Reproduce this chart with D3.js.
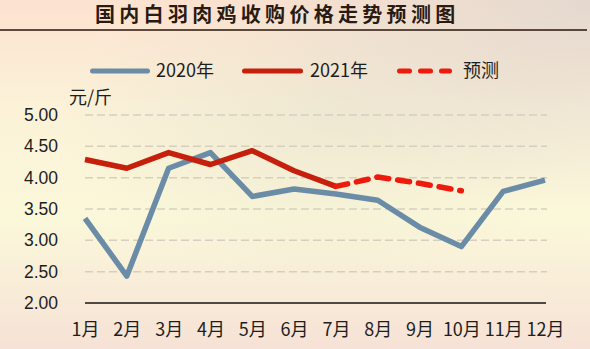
<!DOCTYPE html>
<html>
<head>
<meta charset="utf-8">
<script src="https://cdn.jsdelivr.net/npm/d3@7"></script>
<style>
  html, body { margin: 0; padding: 0; }
  body { width: 590px; height: 349px; overflow: hidden; }
  svg { display: block; }
</style>
</head>
<body>
<svg id="chart" width="590" height="349"></svg>
<script>
// Monthly purchase price of white-feather broilers (元/斤)
const months = ["1月","2月","3月","4月","5月","6月","7月","8月","9月","10月","11月","12月"];
const price2020 = [3.35, 2.43, 4.15, 4.40, 3.70, 3.82, 3.74, 3.64, 3.21, 2.90, 3.78, 3.96];
const price2021 = [4.29, 4.15, 4.40, 4.21, 4.43, 4.11, 3.86];
const forecastMonths = ["7月","8月","9月","10月"];
const forecast = [3.86, 4.01, 3.91, 3.79];
const yTicks = [2.00, 2.50, 3.00, 3.50, 4.00, 4.50, 5.00];

const title = "国内白羽肉鸡收购价格走势预测图";
const unitLabel = "元/斤";
const legendItems = [
  { name: "2020年", color: "#6b8ca6", dash: null, x1: 90, x2: 150, tx: 156 },
  { name: "2021年", color: "#c6200c", dash: null, x1: 242, x2: 303, tx: 310 },
  { name: "预测", color: "#ee1a0c", dash: "13,7", x1: 397, x2: 452, tx: 463 }
];

const svg = d3.select("#chart");
const W = 590, H = 349;

// Background wash
const defs = svg.append("defs");
const lg = defs.append("linearGradient").attr("id", "bg").attr("x1", 0).attr("y1", 0).attr("x2", 0).attr("y2", 1);
[["0%", "#fce2d0"], ["30%", "#fbf2d8"], ["62%", "#fbf8da"], ["100%", "#f6e2d6"]]
  .forEach(([o, c]) => lg.append("stop").attr("offset", o).attr("stop-color", c));
const rg = defs.append("radialGradient").attr("id", "haze").attr("cx", 0.55).attr("cy", 0.35).attr("r", 0.45);
rg.append("stop").attr("offset", "0%").attr("stop-color", "#d9d6c8").attr("stop-opacity", 0.35);
rg.append("stop").attr("offset", "100%").attr("stop-color", "#d9d6c8").attr("stop-opacity", 0);
const rg2 = defs.append("radialGradient").attr("id", "haze2").attr("cx", 1).attr("cy", 0).attr("r", 0.6);
rg2.append("stop").attr("offset", "0%").attr("stop-color", "#e2d8cf").attr("stop-opacity", 0.9);
rg2.append("stop").attr("offset", "100%").attr("stop-color", "#e2d8cf").attr("stop-opacity", 0);

svg.append("rect").attr("width", W).attr("height", H).attr("fill", "url(#bg)");
svg.append("rect").attr("width", W).attr("height", H).attr("fill", "url(#haze)");
svg.append("rect").attr("width", W).attr("height", H).attr("fill", "url(#haze2)");

// Title and rule
svg.append("text")
  .attr("x", 95).attr("y", 22)
  .attr("font-family", "Noto Sans CJK SC")
  .attr("font-weight", 700)
  .attr("font-size", 20)
  .attr("letter-spacing", 4.3)
  .attr("fill", "#2a1a12")
  .text(title);
svg.append("line")
  .attr("x1", 0).attr("x2", 587).attr("y1", 30).attr("y2", 30)
  .attr("stroke", "#2a140a").attr("stroke-width", 1.5);

// Scales
const x = d3.scalePoint().domain(months).range([85, 545]);
const y = d3.scaleLinear().domain([2, 5]).range([303, 115]);

// Gridlines
svg.append("g")
  .selectAll("line")
  .data(yTicks.filter(v => v > 2))
  .join("line")
  .attr("x1", 85).attr("x2", 547)
  .attr("y1", d => y(d)).attr("y2", d => y(d))
  .attr("stroke", "#d6cfbf").attr("stroke-width", 1.5)
  .attr("stroke-dasharray", "8,4");

// Y axis (labels only)
const yAxis = d3.axisLeft(y).tickValues(yTicks).tickFormat(d3.format(".2f")).tickSize(0).tickPadding(0);
const yg = svg.append("g").attr("transform", "translate(58,0)").call(yAxis);
yg.select(".domain").remove();
yg.selectAll("text")
  .attr("font-family", "Liberation Sans, Arial, sans-serif")
  .attr("font-size", 17.5)
  .attr("fill", "#1e1e1e");

// X axis
const xAxis = d3.axisBottom(x).tickSize(0).tickPadding(0);
const xg = svg.append("g").attr("transform", "translate(0,303)").call(xAxis);
xg.select(".domain").attr("stroke", "#1a1410").attr("stroke-width", 1.5).attr("d", "M85,0H546");
xg.selectAll("text")
  .attr("y", 27)
  .attr("dy", "0.32em")
  .attr("font-family", "Noto Sans CJK SC, sans-serif")
  .attr("font-size", 18)
  .attr("fill", "#1e1e1e");

// Unit label
svg.append("text")
  .attr("x", 69).attr("y", 104)
  .attr("font-family", "Noto Sans CJK SC, sans-serif")
  .attr("font-size", 18)
  .attr("fill", "#1e1e1e")
  .text(unitLabel);

// Series lines
const line = d3.line().x(d => x(d[0])).y(d => y(d[1]));
svg.append("path")
  .datum(months.map((m, i) => [m, price2020[i]]))
  .attr("d", line)
  .attr("fill", "none").attr("stroke", "#6b8ca6").attr("stroke-width", 5.5)
  .attr("stroke-linejoin", "round");
svg.append("path")
  .datum(price2021.map((v, i) => [months[i], v]))
  .attr("d", line)
  .attr("fill", "none").attr("stroke", "#c6200c").attr("stroke-width", 5.5)
  .attr("stroke-linejoin", "round");
svg.append("path")
  .datum(forecastMonths.map((m, i) => [m, forecast[i]]))
  .attr("d", line)
  .attr("fill", "none").attr("stroke", "#ee1a0c").attr("stroke-width", 5.5)
  .attr("stroke-dasharray", "12,9").attr("stroke-linecap", "round")
  .attr("stroke-linejoin", "round");

// Legend
const leg = svg.append("g");
legendItems.forEach(it => {
  leg.append("line")
    .attr("x1", it.x1 + 2.5).attr("x2", it.x2 - 2.5).attr("y1", 71).attr("y2", 71)
    .attr("stroke", it.color).attr("stroke-width", 5).attr("stroke-linecap", "round")
    .attr("stroke-dasharray", it.dash ? "10,11" : null);
  leg.append("text")
    .attr("x", it.tx).attr("y", 71).attr("dy", "0.36em")
    .attr("font-family", "Noto Sans CJK SC, sans-serif")
    .attr("font-size", 18)
    .attr("fill", "#1e1e1e")
    .text(it.name);
});
</script>
</body>
</html>
